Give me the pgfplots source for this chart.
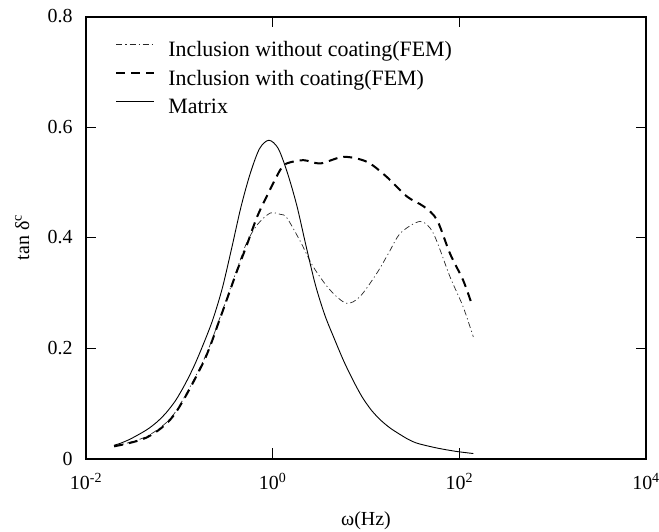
\documentclass[border=0pt]{standalone}
\usepackage{pgfplots}
\pgfplotsset{compat=1.18}
\usepackage{fontspec}
\setmainfont{Liberation Serif}
\newcommand{\fs}{\fontsize{20}{24}\selectfont}
\newcommand{\fl}{\fontsize{22}{26}\selectfont}
\begin{document}
\begin{tikzpicture}
\useasboundingbox (-86bp,-73.5bp) rectangle (573bp,458.5bp);
\begin{axis}[
  at={(0,0)}, anchor=south west,
  scale only axis,
  width=560bp, height=442bp,
  xmode=log, log basis x=10,
  xmin=0.01, xmax=10000,
  ymin=0, ymax=0.8,
  xtick={0.01,1,100,10000},
  xticklabels={10\textsuperscript{-2},10\textsuperscript{0},10\textsuperscript{2},10\textsuperscript{4}},
  ytick={0,0.2,0.4,0.6,0.8},
  yticklabels={0,0.2,0.4,0.6,0.8},
  minor tick num=0,
  minor xtick={},
  tick align=inside,
  major tick length=10.5bp,
  axis line style={line width=2bp},
  every tick/.style={black, line width=0.9bp},
  tick label style={font=\fs},
  xticklabel style={yshift=-11bp},
  yticklabel style={xshift=-10bp},
  xlabel={ω(Hz)},
  ylabel={tan δ\textsuperscript{c}},
  label style={font=\fs},
  xlabel style={at={(axis description cs:0.5,0)}, anchor=center, yshift=-62bp},
  ylabel style={at={(axis description cs:-0.114,0.5)}, anchor=center},
  legend style={draw=none, fill=none, font=\fl, at={(0.052,0.955)}, anchor=north west,
    inner sep=0pt, column sep=13bp,
    nodes={inner sep=0pt, text height=20bp, text depth=8.5bp},
    cells={anchor=west}},
  legend image code/.code={\draw[#1] (0bp,6bp) -- (38bp,6bp);},
]
\addplot[black!85, line width=0.7bp, dash pattern=on 6bp off 3bp on 1.2bp off 3bp, smooth, tension=0.5] coordinates {
(0.0200,0.022) (0.0447,0.040) (0.0871,0.080) (0.182,0.178) (0.275,0.257) (0.412,0.341)
(0.525,0.390) (0.676,0.422) (0.933,0.444) (1.202,0.442) (1.413,0.436) (1.950,0.395)
(2.723,0.347) (4.121,0.305) (6.166,0.281) (8.610,0.293) (13.03,0.335) (17.38,0.371)
(23.44,0.408) (38.02,0.429) (52.48,0.408) (79.43,0.329) (109.6,0.275) (141.3,0.220)
};
\addlegendentry{Inclusion without coating(FEM)}
\addplot[black, line width=2bp, dash pattern=on 9bp off 6bp, smooth, tension=0.5] coordinates {
(0.0200,0.022) (0.0447,0.038) (0.0871,0.078) (0.182,0.175) (0.275,0.255) (0.412,0.338)
(0.525,0.385) (0.676,0.436) (0.861,0.474) (1.202,0.522) (1.413,0.534) (2.138,0.540)
(3.236,0.534) (5.754,0.546) (10.23,0.537) (16.60,0.510) (27.54,0.474) (41.69,0.456)
(57.54,0.432) (79.43,0.371) (109.6,0.323) (134.9,0.281)
};
\addlegendentry{Inclusion with coating(FEM)}
\addplot[black, line width=0.9bp, smooth, tension=0.5] coordinates {
(0.01995,0.024) (0.02291,0.027) (0.02884,0.034) (0.03631,0.043) (0.04571,0.053)
(0.05754,0.066) (0.07244,0.083) (0.09120,0.105) (0.1148,0.134) (0.1445,0.168)
(0.1820,0.208) (0.2291,0.252) (0.2884,0.308) (0.3631,0.380) (0.4571,0.455)
(0.5754,0.516) (0.7244,0.561) (0.9120,0.576) (1.148,0.561) (1.445,0.516)
(1.820,0.457) (2.291,0.383) (2.884,0.313) (3.631,0.259) (4.571,0.217)
(5.754,0.177) (7.244,0.142) (9.120,0.111) (11.48,0.087) (14.45,0.069)
(18.20,0.055) (22.91,0.044) (28.84,0.034) (36.31,0.027) (57.54,0.019)
(91.20,0.013) (141.3,0.009)
};
\addlegendentry{Matrix}
\end{axis}
\end{tikzpicture}
\end{document}
